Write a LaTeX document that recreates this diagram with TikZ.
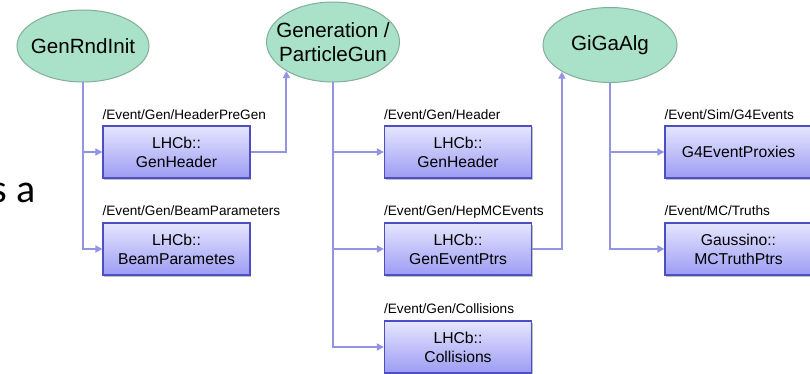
\documentclass[tikz,border=0pt]{standalone}
\usepackage{fontspec}
\setmainfont{Liberation Sans}
\newfontfamily\slidefont{Carlito}
\usetikzlibrary{shapes.geometric,arrows.meta,shadows}

\definecolor{algfill}{HTML}{A9E1C9}
\definecolor{algline}{HTML}{82AE9C}
\definecolor{objtop}{HTML}{E6E6FF}
\definecolor{objbottom}{HTML}{9C9CF4}
\definecolor{objline}{HTML}{4E4EC4}
\definecolor{linkcol}{HTML}{9494E4}

\tikzset{
  alg/.style={ellipse, draw=algline, line width=1pt, fill=algfill,
    minimum width=133pt, minimum height=76pt, inner sep=0pt},
  algtext/.style={inner sep=0pt, align=center,
    font=\fontsize{20.6}{24}\selectfont},
  obj/.style={rectangle, draw=objline, line width=1.2pt,
    top color=objtop, bottom color=objbottom,
    minimum width=147pt, minimum height=52pt, inner sep=0pt,
    align=center, font=\fontsize{15.7}{19}\selectfont,
    drop shadow={shadow xshift=1.2pt, shadow yshift=-1.5pt, opacity=0.25, fill=black}},
  loc/.style={anchor=base west, inner sep=0pt,
    font=\fontsize{13.6}{16}\selectfont},
  link/.style={draw=linkcol, line width=2pt,
    -{Triangle[length=7pt,width=7pt]}}
}

\begin{document}
\begin{tikzpicture}[x=1pt,y=-1pt]
\useasboundingbox (0,0) rectangle (810,374);

% fragment of the slide text to the left
\node[anchor=base east, inner sep=0pt,
      font=\slidefont\fontsize{40}{48}\selectfont] (slidefrag) at (36,202) {s a};

% algorithms
\node[alg, minimum width=132pt, minimum height=72pt] (ri) at (83,46) {};
\node[algtext] (ritxt) at (ri) {GenRndInit};
\node[alg, minimum width=133pt, minimum height=80pt] (gen) at (333,42) {};
\node[algtext] (gentxt) at (gen) {Generation /\\ParticleGun};
\node[alg, minimum width=134pt, minimum height=75pt] (giga) at (610,45) {};
\node[algtext] (gigatxt) at (giga) {GiGaAlg};

% data objects
\node[obj] (b1) at (176.5,152) {LHCb::\\GenHeader};
\node[obj] (b2) at (176.5,249) {LHCb::\\BeamParametes};
\node[obj] (b3) at (458,152) {LHCb::\\GenHeader};
\node[obj] (b4) at (458,249) {LHCb::\\GenEventPtrs};
\node[obj] (b5) at (458,347) {LHCb::\\Collisions};
\node[obj] (b6) at (738.5,152) {G4EventProxies};
\node[obj] (b7) at (738.5,249) {Gaussino::\\MCTruthPtrs};

% store locations
\node[loc] (p1) at ([yshift=5.5pt]b1.north west) {/Event/Gen/HeaderPreGen};
\node[loc] (p2) at ([yshift=6.5pt]b2.north west) {/Event/Gen/BeamParameters};
\node[loc] (p3) at ([yshift=5.5pt]b3.north west) {/Event/Gen/Header};
\node[loc] (p4) at ([yshift=6.5pt]b4.north west) {/Event/Gen/HepMCEvents};
\node[loc] (p5) at ([yshift=6.5pt]b5.north west) {/Event/Gen/Collisions};
\node[loc] (p6) at ([yshift=5.5pt]b6.north west) {/Event/Sim/G4Events};
\node[loc] (p7) at ([yshift=6.5pt]b7.north west) {/Event/MC/Truths};

% outputs
\draw[link] (ri.south) |- (b1.west);
\draw[link] (ri.south) |- (b2.west);
\draw[link] (gen.south) |- (b3.west);
\draw[link] (gen.south) |- (b4.west);
\draw[link] (gen.south) |- (b5.west);
\draw[link] (giga.south) |- (b6.west);
\draw[link] (giga.south) |- (b7.west);

% inputs
\draw[link] (b1.east) -| (gen.212);
\draw[link] (b4.east) -| (giga.209.6);
\end{tikzpicture}
\end{document}
